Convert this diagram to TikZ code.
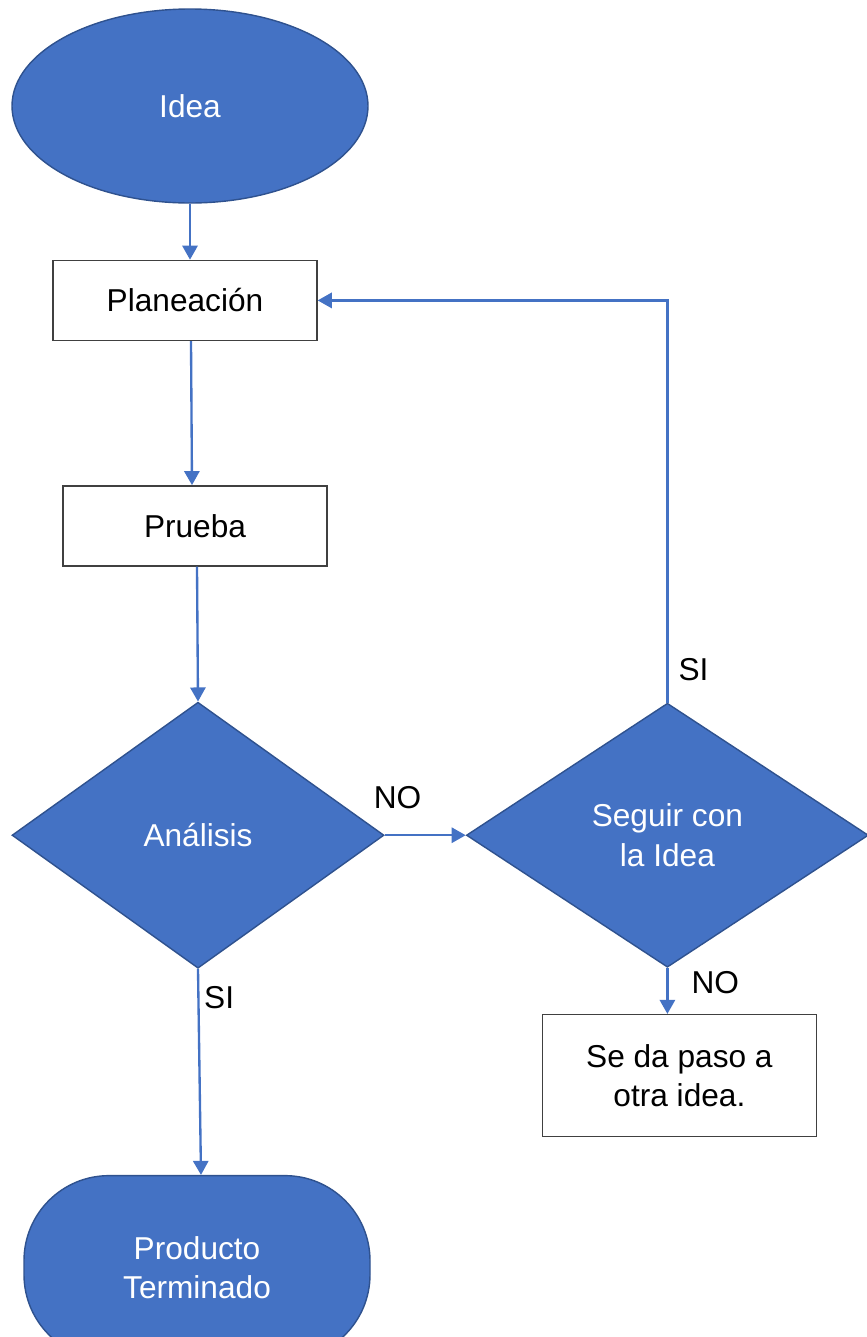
\documentclass[tikz,border=0pt]{standalone}
\usepackage{fontspec}
\setmainfont{Liberation Sans}
\usetikzlibrary{shapes.geometric,positioning,arrows.meta}
\definecolor{flowblue}{HTML}{4472C4}
\definecolor{flowedge}{HTML}{2F528F}

\begin{document}
\begin{tikzpicture}[->,>={Triangle[width=13pt,length=12pt]},
      font=\fontsize{27}{34}\selectfont,
      every edge/.style={draw=flowblue,line width=2pt},
      blue node/.style={draw=flowedge,line width=1.2pt,fill=flowblue,text=white,align=center,inner sep=0pt},
      box node/.style={rectangle,draw=black!75,line width=1.2pt,fill=white,align=center},
      label node/.style={inner sep=0pt,text=black}]
      \useasboundingbox (0,0) rectangle (26.01,-40.11);

      \node[blue node,ellipse,minimum width=10.68cm,minimum height=5.82cm] (idea) at (5.7,-3.18) {Idea};
      \node[box node,minimum width=7.92cm,minimum height=2.4cm] (plan) [below=1.68cm of idea,xshift=-0.15cm] {Planeación};
      \node[box node,minimum width=7.92cm,minimum height=2.4cm] (prueba) [below=4.32cm of plan,xshift=0.3cm] {Prueba};
      \node[blue node,diamond,minimum width=11.16cm,minimum height=7.98cm] (analisis) [below=4.05cm of prueba,xshift=0.09cm] {Análisis};
      \node[blue node,diamond,minimum width=12.06cm,minimum height=7.92cm] (seguir) [right=2.43cm of analisis] {Seguir con\\la Idea};
      \node[box node,minimum width=8.22cm,minimum height=3.66cm] (otra) [below=1.38cm of seguir,xshift=0.36cm] {Se da paso a\\otra idea.};
      \node[blue node,rectangle,rounded corners=2.55cm,minimum width=10.38cm,minimum height=5.52cm] (prod) [below=6.18cm of analisis,xshift=-0.03cm] {Producto\\Terminado};

      \path
        (idea.south) edge (idea.south |- plan.north)
        ([xshift=0.18cm]plan.south) edge ([xshift=-0.09cm]prueba.north)
        ([xshift=0.06cm]prueba.south) edge (analisis.north)
        (analisis.east) edge node[label node,at start,anchor=south west,xshift=-0.36cm,yshift=0.75cm] {NO} (seguir.west)
        (seguir.south) edge node[label node,at start,anchor=north west,xshift=0.69cm,yshift=-0.06cm] {NO} (seguir.south |- otra.north)
        (analisis.south) edge node[label node,at start,anchor=north west,xshift=0.15cm,yshift=-0.48cm] {SI} ([xshift=0.12cm]prod.north);

      \draw[draw=flowblue,line width=2pt] (seguir.north) |- node[label node,at start,anchor=south west,xshift=0.3cm,yshift=0.63cm] {SI} (plan.east);
    \end{tikzpicture}
\end{document}
